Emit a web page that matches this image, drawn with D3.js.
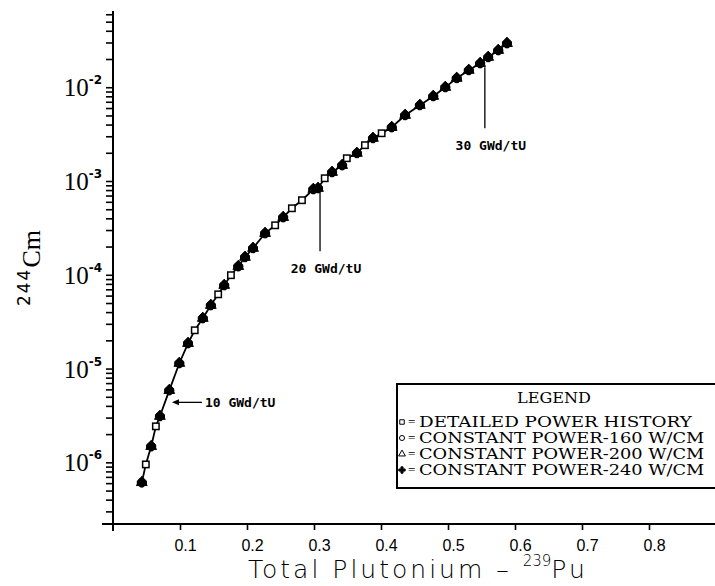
<!DOCTYPE html>
<html>
<head>
<meta charset="utf-8">
<script src="https://cdn.jsdelivr.net/npm/d3@7"></script>
<style>
  body { margin: 0; background: #fff; }
  svg { display: block; }
</style>
</head>
<body>
<div id="chart"></div>
<script>
// values: total Pu-239 vs Cm-244
const detailedPu = [0.049, 0.064, 0.122, 0.157, 0.176, 0.242, 0.267, 0.282, 0.316, 0.349, 0.376, 0.401];
const detailedCm = [9.5e-7, 2.42e-6, 2.56e-5, 6.19e-5, 9.9e-5, 3.37e-4, 5.12e-4, 6.24e-4, 1.07e-3, 1.75e-3, 2.41e-3, 3.23e-3];

// the three constant power runs fall on top of each other
const constantPu = [0.043, 0.057, 0.070, 0.084, 0.099, 0.112, 0.134, 0.146, 0.166, 0.187, 0.197, 0.209,
  0.227, 0.254, 0.299, 0.306, 0.327, 0.342, 0.364, 0.388, 0.416, 0.436, 0.458, 0.478,
  0.496, 0.513, 0.531, 0.548, 0.560, 0.575, 0.588];
const constantCm = [6.1e-7, 1.48e-6, 3.10e-6, 5.86e-6, 1.14e-5, 1.86e-5, 3.44e-5, 4.73e-5, 7.73e-5, 1.23e-4, 1.54e-4, 1.92e-4,
  2.77e-4, 4.10e-4, 8.17e-4, 8.37e-4, 1.24e-3, 1.47e-3, 1.98e-3, 2.86e-3, 3.74e-3, 5.03e-3, 6.43e-3, 8.02e-3,
  1.0e-2, 1.25e-2, 1.52e-2, 1.80e-2, 2.09e-2, 2.48e-2, 2.94e-2];

const xTicks = [0.1, 0.2, 0.3, 0.4, 0.5, 0.6, 0.7, 0.8];
const yExponents = [-6, -5, -4, -3, -2];

const legendTitle = "LEGEND";
const legendLabels = [
  "DETAILED POWER HISTORY",
  "CONSTANT POWER-160 W/CM",
  "CONSTANT POWER-200 W/CM",
  "CONSTANT POWER-240 W/CM"
];
const legendSymbols = [d3.symbolSquare, d3.symbolCircle, d3.symbolTriangle, d3.symbolCross];

const burnupLabels = ["10 GWd/tU", "20 GWd/tU", "30 GWd/tU"];
const burnupPu = [0.088, 0.309, 0.555];
const burnupCm = [4.36e-6, 7.96e-4, 1.63e-2];

const width = 715, height = 586;

const svg = d3.select("#chart")
  .append("svg")
    .attr("width", width)
    .attr("height", height);

const xScale = d3.scaleLinear()
  .domain([0, 0.9])
  .range([113, 716]);

const yScale = d3.scaleLog()
  .domain([2.2e-7, 6.5e-2])
  .range([524, 11]);

// minor + major log ticks
const yTickValues = [];
for (let e = -7; e <= -2; e++) {
  for (let m = 1; m <= 9; m++) {
    const v = m * Math.pow(10, e);
    if (v >= yScale.domain()[0] && v <= yScale.domain()[1]) yTickValues.push(v);
  }
}

const leftAxis = d3.axisLeft(yScale)
  .tickValues(yTickValues)
  .tickSize(7)
  .tickFormat("");
svg.append("g")
    .attr("class", "axis axis-y")
    .attr("transform", `translate(${xScale(0)}, 0)`)
    .call(leftAxis)
    .call(g => g.select(".domain").remove())
    .call(g => g.selectAll(".tick line").attr("stroke", "#000").attr("stroke-width", 1.6));

const bottomAxis = d3.axisBottom(xScale)
  .tickValues(xTicks)
  .tickSize(6)
  .tickFormat(d => d.toFixed(1));
svg.append("g")
    .attr("class", "axis axis-x")
    .attr("transform", `translate(0, ${yScale.range()[0]})`)
    .call(bottomAxis)
    .call(g => g.select(".domain").remove())
    .call(g => g.selectAll(".tick line").attr("stroke", "#000").attr("stroke-width", 1.6))
    .call(g => g.selectAll(".tick text")
      .attr("dx", 5)
      .attr("y", 16)
      .style("font-family", "'Liberation Sans', Arial, sans-serif")
      .style("font-size", "16px")
      .attr("fill", "#000"));

// axis lines, slightly overshooting like the original
svg.append("line")
    .attr("x1", xScale(0)).attr("x2", xScale(0))
    .attr("y1", yScale.range()[1]).attr("y2", yScale.range()[0] + 7)
    .attr("stroke", "#000").attr("stroke-width", 2);
svg.append("line")
    .attr("x1", xScale(0) - 11).attr("x2", width)
    .attr("y1", yScale.range()[0]).attr("y2", yScale.range()[0])
    .attr("stroke", "#000").attr("stroke-width", 2);

// y tick labels 10^n
const yLabels = svg.append("g")
  .selectAll("text")
  .data(yExponents)
  .join("text")
    .attr("x", 102)
    .attr("y", d => yScale(Math.pow(10, d)) + 9)
    .attr("text-anchor", "end")
    .style("font-family", "'Liberation Serif', 'Times New Roman', serif")
    .style("font-size", "25px");
yLabels.append("tspan").text("10");
yLabels.append("tspan")
    .text(d => "-" + Math.abs(d))
    .attr("dy", -12)
    .style("font-family", "'DejaVu Sans', sans-serif")
    .style("font-size", "12px")
    .style("font-weight", "bold");

// y axis title
const yTitle = svg.append("text")
    .attr("transform", "translate(40, 268) rotate(-90)")
    .attr("text-anchor", "middle");
yTitle.append("tspan")
    .text("244")
    .attr("dy", -10)
    .attr("letter-spacing", 2)
    .style("font-family", "'DejaVu Sans', sans-serif")
    .style("font-size", "17px");
yTitle.append("tspan")
    .text("Cm")
    .attr("dy", 10)
    .style("font-family", "'Liberation Serif', serif")
    .style("font-size", "26px");

// x axis title
const xTitle = svg.append("text")
    .attr("x", 248)
    .attr("y", 578)
    .attr("letter-spacing", 3)
    .style("font-family", "'DejaVu Sans', sans-serif")
    .style("font-size", "25px")
    .style("font-weight", 300);
xTitle.append("tspan").text("Total Plutonium  \u2013 ");
xTitle.append("tspan").text("239").attr("dy", -12).style("font-size", "15px").attr("letter-spacing", 0);
xTitle.append("tspan").text("Pu").attr("dy", 12);

// the curve through all points
const allPoints = detailedPu.map((x, i) => ({ x, y: detailedCm[i] }))
  .concat(constantPu.map((x, i) => ({ x, y: constantCm[i] })))
  .sort((a, b) => a.x - b.x);

const line = d3.line()
  .x(d => xScale(d.x))
  .y(d => yScale(d.y));

svg.append("path")
    .datum(allPoints)
    .attr("d", line)
    .attr("fill", "none")
    .attr("stroke", "#000")
    .attr("stroke-width", 1.8);

// constant power markers: circle, triangle and cross stacked on each point
const constantPoints = constantPu.map((x, i) => ({ x, y: constantCm[i] }));
[[d3.symbolCircle, 60], [d3.symbolTriangle, 50], [d3.symbolCross, 45]].forEach(([sym, size]) => {
  svg.append("g")
    .selectAll("path")
    .data(constantPoints)
    .join("path")
      .attr("transform", d => `translate(${xScale(d.x)}, ${yScale(d.y)})`)
      .attr("d", d3.symbol(sym, size))
      .attr("fill", "#000")
      .attr("stroke", "#000")
      .attr("stroke-width", 1);
});

// detailed power history markers: open squares
svg.append("g")
  .selectAll("rect")
  .data(detailedPu.map((x, i) => ({ x, y: detailedCm[i] })))
  .join("rect")
    .attr("x", d => xScale(d.x) - 3.2)
    .attr("y", d => yScale(d.y) - 3.2)
    .attr("width", 6.4)
    .attr("height", 6.4)
    .attr("fill", "#fff")
    .attr("stroke", "#000")
    .attr("stroke-width", 1.5);

// burnup annotations
const annoFont = "'DejaVu Sans Mono', monospace";
const a10 = { x: xScale(burnupPu[0]), y: yScale(burnupCm[0]) };
svg.append("line")
    .attr("x1", a10.x + 2).attr("x2", a10.x + 30)
    .attr("y1", a10.y).attr("y2", a10.y)
    .attr("stroke", "#000").attr("stroke-width", 1.3);
svg.append("path")
    .attr("d", `M${a10.x},${a10.y} l7,-3 l0,6 z`)
    .attr("fill", "#000");
svg.append("text")
    .attr("x", a10.x + 33)
    .attr("y", a10.y + 5)
    .text(burnupLabels[0])
    .style("font-family", annoFont)
    .style("font-size", "13px")
    .style("font-weight", "bold");

[1, 2].forEach(i => {
  const px = xScale(burnupPu[i]), py = yScale(burnupCm[i]);
  svg.append("line")
      .attr("x1", px).attr("x2", px)
      .attr("y1", py).attr("y2", py + 61)
      .attr("stroke", "#000").attr("stroke-width", 1.3);
  svg.append("text")
      .attr("x", px + 6)
      .attr("y", py + 83)
      .attr("text-anchor", "middle")
      .text(burnupLabels[i])
      .style("font-family", annoFont)
      .style("font-size", "13px")
      .style("font-weight", "bold");
});

// legend box
const legend = svg.append("g")
    .attr("transform", "translate(397, 384)");
legend.append("rect")
    .attr("width", 340)
    .attr("height", 104)
    .attr("fill", "#fff")
    .attr("stroke", "#000")
    .attr("stroke-width", 2);
legend.append("text")
    .attr("x", 157)
    .attr("y", 19)
    .attr("text-anchor", "middle")
    .text(legendTitle)
    .attr("textLength", 74)
    .attr("lengthAdjust", "spacingAndGlyphs")
    .style("font-family", "'DejaVu Serif', serif")
    .style("font-size", "14px");

const rows = legend.selectAll("g.row")
  .data(legendLabels)
  .join("g")
    .attr("class", "row")
    .attr("transform", (d, i) => `translate(0, ${38 + i * 16})`);
rows.append("path")
    .attr("transform", "translate(5, 0)")
    .attr("d", (d, i) => d3.symbol(legendSymbols[i], i === 3 ? 22 : 20)())
    .attr("fill", (d, i) => i === 3 ? "#000" : "none")
    .attr("stroke", "#000")
    .attr("stroke-width", 1);
rows.append("text")
    .attr("x", 11)
    .attr("y", 4)
    .text("=")
    .style("font-family", "'Liberation Serif', serif")
    .style("font-size", "13px");
rows.append("text")
    .attr("x", 22)
    .attr("y", 5)
    .text(d => d)
    .attr("textLength", d => d.length * 12.4)
    .attr("lengthAdjust", "spacingAndGlyphs")
    .style("font-family", "'DejaVu Serif', serif")
    .style("font-size", "14px");
</script>
</body>
</html>
